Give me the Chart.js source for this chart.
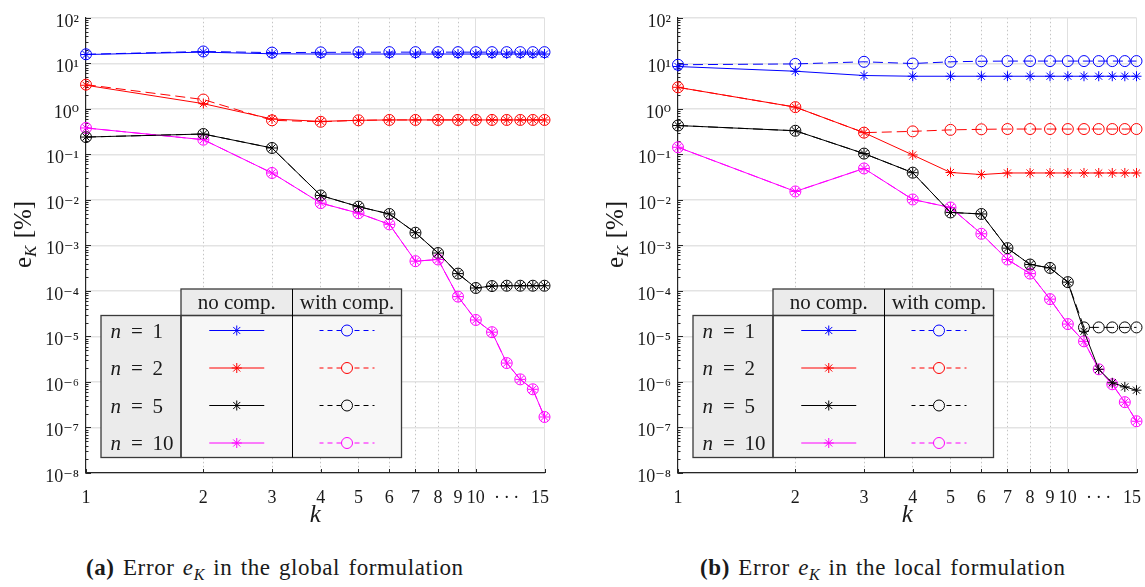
<!DOCTYPE html>
<html>
<head>
<meta charset="utf-8">
<script src="https://cdn.jsdelivr.net/npm/chart.js@4.4.0/dist/chart.umd.min.js"></script>
<style>
  body { margin: 0; background: #fff; width: 1145px; height: 587px; overflow: hidden; position: relative;
         font-family: "Liberation Serif", "DejaVu Serif", serif; color: #1a1a1a; }
  canvas { position: absolute; top: 0; }
  #chartA { left: 0; }
  #chartB { left: 592px; }
  .cap { position: absolute; top: 555px; font-size: 23px; line-height: 26px; white-space: nowrap;
         letter-spacing: 0.6px; word-spacing: 2px; }
  .cap sub { font-size: 16px; vertical-align: -5px; line-height: 0; }
</style>
</head>
<body>
<canvas id="chartA" width="572" height="530"></canvas>
<canvas id="chartB" width="572" height="530"></canvas>
<div class="cap" style="left:86px"><b>(a)</b>&nbsp;Error <i>e</i><sub><i>K</i></sub> in the global formulation</div>
<div class="cap" style="left:700px"><b>(b)</b>&nbsp;Error <i>e</i><sub><i>K</i></sub> in the local formulation</div>
<script>
const FAMILY = '"Liberation Serif", "DejaVu Serif", serif';

// number of modes k
const K = [1, 2, 3, 4, 5, 6, 7, 8, 9, 10, 11, 12, 13, 14, 15];
const X_TICKS = [1, 2, 3, 4, 5, 6, 7, 8, 9, 10, 12, 15];
const Y_TICKS = [1e-8, 1e-7, 1e-6, 1e-5, 1e-4, 1e-3, 1e-2, 1e-1, 1, 10, 100];

const N_VALUES = [1, 2, 5, 10];
const COLORS = ['#0000ff', '#ff0000', '#000000', '#ff00ff'];

// (a) global formulation, error e_K in %
const globalN1 = [15.6, 17.6, 16.2, 16.0, 16.0, 16.0, 16.0, 16.0, 16.0, 16.0, 16.0, 16.0, 16.0, 16.0, 16.0];
const globalN1Comp = [15.8, 18.2, 17.2, 17.4, 17.5, 17.6, 17.6, 17.6, 17.6, 17.6, 17.6, 17.6, 17.6, 17.6, 17.6];
const globalN2 = [3.3, 1.3, 0.60, 0.53, 0.56, 0.57, 0.57, 0.57, 0.57, 0.57, 0.57, 0.57, 0.57, 0.57, 0.57];
const globalN2Comp = [3.4, 1.6, 0.56, 0.52, 0.56, 0.57, 0.57, 0.57, 0.57, 0.57, 0.57, 0.57, 0.57, 0.57, 0.57];
const globalN5 = [0.24, 0.28, 0.138, 0.0125, 0.0071, 0.0049, 0.0019, 0.00068, 0.00024, 0.000116, 0.000128, 0.00013, 0.00013, 0.00013, 0.00013];
const globalN5Comp = [0.24, 0.28, 0.138, 0.0125, 0.0071, 0.0049, 0.0019, 0.00068, 0.00024, 0.000116, 0.000128, 0.00013, 0.00013, 0.00013, 0.00013];
const globalN10 = [0.38, 0.21, 0.039, 0.0085, 0.0051, 0.0029, 0.00045, 0.00049, 7.5e-5, 2.3e-5, 1.24e-5, 2.6e-6, 1.14e-6, 6.9e-7, 1.7e-7];
const globalN10Comp = [0.38, 0.21, 0.039, 0.0085, 0.0051, 0.0029, 0.00045, 0.00049, 7.5e-5, 2.3e-5, 1.24e-5, 2.6e-6, 1.14e-6, 6.9e-7, 1.7e-7];

// (b) local formulation
const localN1 = [8.5, 6.7, 5.4, 5.2, 5.2, 5.2, 5.2, 5.2, 5.2, 5.2, 5.2, 5.2, 5.2, 5.2, 5.2];
const localN1Comp = [9.3, 9.7, 10.8, 9.9, 10.8, 11.1, 11.2, 11.2, 11.2, 11.2, 11.2, 11.2, 11.2, 11.2, 11.2];
const localN2 = [2.97, 1.09, 0.30, 0.097, 0.040, 0.036, 0.039, 0.039, 0.039, 0.039, 0.039, 0.039, 0.039, 0.039, 0.039];
const localN2Comp = [2.97, 1.09, 0.30, 0.32, 0.345, 0.355, 0.36, 0.36, 0.36, 0.36, 0.36, 0.36, 0.36, 0.36, 0.36];
const localN5 = [0.43, 0.33, 0.104, 0.0396, 0.0053, 0.0049, 0.00087, 0.00038, 0.00032, 0.000156, 1.3e-5, 1.9e-6, 9.6e-7, 7.8e-7, 6.6e-7];
const localN5Comp = [0.43, 0.33, 0.104, 0.0396, 0.0053, 0.0049, 0.00087, 0.00038, 0.00032, 0.000156, 1.58e-5, 1.58e-5, 1.58e-5, 1.58e-5, 1.58e-5];
const localN10 = [0.143, 0.0153, 0.049, 0.0102, 0.0068, 0.0018, 0.00049, 0.00024, 6.6e-5, 1.87e-5, 7.8e-6, 1.9e-6, 8.9e-7, 3.6e-7, 1.37e-7];
const localN10Comp = [0.143, 0.0153, 0.049, 0.0102, 0.0068, 0.0018, 0.00049, 0.00024, 6.6e-5, 1.87e-5, 7.8e-6, 1.9e-6, 8.9e-7, 3.6e-7, 1.37e-7];

const SUP = {'-': '\u207b', '0': '\u2070', '1': '\u00b9', '2': '\u00b2', '3': '\u00b3', '4': '\u2074',
             '5': '\u2075', '6': '\u2076', '7': '\u2077', '8': '\u2078', '9': '\u2079'};

function series(values, color, comp) {
  return {
    data: values,
    borderColor: color,
    backgroundColor: 'transparent',
    borderWidth: 1,
    borderDash: comp ? [10, 5] : [],
    pointStyle: comp ? 'circle' : 'star',
    pointRadius: comp ? 5.5 : 5,
    pointBorderColor: color,
    pointBackgroundColor: 'transparent',
    pointBorderWidth: 1,
    tension: 0,
    fill: false,
    clip: false
  };
}

function line(ctx, x1, y1, x2, y2) {
  ctx.beginPath(); ctx.moveTo(x1, y1); ctx.lineTo(x2, y2); ctx.stroke();
}

// inward tick marks, like the original axes
function drawInwardTicks(chart) {
  const {ctx, chartArea: ca, scales} = chart;
  ctx.save();
  ctx.strokeStyle = '#262626';
  ctx.lineWidth = 1;
  for (let e = -8; e <= 2; e++) {
    const y = Math.round(scales.y.getPixelForValue(Math.pow(10, e))) + 0.5;
    line(ctx, ca.left, y, ca.left + 5, y);
    if (e === 2) break;
    for (let m = 2; m <= 9; m++) {
      const ym = Math.round(scales.y.getPixelForValue(m * Math.pow(10, e))) + 0.5;
      line(ctx, ca.left, ym, ca.left + 2.5, ym);
    }
  }
  X_TICKS.filter(v => v !== 12).forEach(v => {
    const x = Math.round(scales.x.getPixelForValue(v)) + 0.5;
    line(ctx, x, ca.bottom, x, ca.bottom - 4);
  });
  ctx.restore();
}

function drawYTitle(chart) {
  const {ctx, chartArea: ca} = chart;
  ctx.save();
  ctx.translate(ca.left - 55, ca.top + (ca.bottom - ca.top) / 2 - 11);
  ctx.rotate(-Math.PI / 2);
  ctx.fillStyle = '#1a1a1a';
  ctx.textBaseline = 'alphabetic';
  const big = '25px ' + FAMILY, sub = 'italic 17px ' + FAMILY;
  ctx.font = big; const we = ctx.measureText('e').width;
  ctx.font = sub; const wk = ctx.measureText('K').width;
  ctx.font = big; const wr = ctx.measureText(' [%]').width;
  let x = -(we + wk + 1 + wr) / 2;
  ctx.font = big; ctx.fillText('e', x, 0); x += we;
  ctx.font = sub; ctx.fillText('K', x, 5); x += wk + 1;
  ctx.font = big; ctx.fillText(' [%]', x, 0);
  ctx.restore();
}

// the legend table with "no comp." / "with comp." columns
function drawLegendTable(chart) {
  const {ctx, chartArea: ca} = chart;
  const x0 = ca.left + 15, x1 = ca.left + 95, x2 = ca.left + 206.5, x3 = ca.right - 143;
  const yH = ca.bottom - 184, y0 = ca.bottom - 157.5, y1 = ca.bottom - 15.5;
  ctx.save();
  ctx.fillStyle = '#ebebeb';
  ctx.fillRect(x1, yH, x3 - x1, y0 - yH);
  ctx.fillRect(x0, y0, x1 - x0, y1 - y0);
  ctx.fillStyle = '#f7f7f7';
  ctx.fillRect(x1, y0, x3 - x1, y1 - y0);
  ctx.strokeStyle = '#3a3a3a';
  ctx.lineWidth = 1.3;
  ctx.strokeRect(x1, yH, x3 - x1, y0 - yH);
  ctx.strokeRect(x0, y0, x1 - x0, y1 - y0);
  ctx.strokeRect(x1, y0, x3 - x1, y1 - y0);
  ctx.strokeStyle = '#000';
  ctx.lineWidth = 1;
  line(ctx, x2, yH, x2, y1);

  ctx.fillStyle = '#1a1a1a';
  ctx.textBaseline = 'alphabetic';
  ctx.textAlign = 'center';
  ctx.font = '21px ' + FAMILY;
  const c1 = (x1 + x2) / 2, c2 = (x2 + x3) / 2;
  ctx.fillText('no comp.', c1, yH + 20);
  ctx.fillText('with comp.', c2, yH + 20);

  N_VALUES.forEach((n, i) => {
    const yc = y0 + 15 + i * 37.5;
    ctx.fillStyle = '#1a1a1a';
    ctx.textAlign = 'left';
    ctx.font = 'italic 21px ' + FAMILY;
    ctx.fillText('n', x0 + 9.5, yc + 7);
    ctx.textAlign = 'center';
    ctx.font = '21px ' + FAMILY;
    ctx.fillText('=', x0 + 36, yc + 7);
    ctx.textAlign = 'left';
    ctx.fillText(String(n), x0 + 51.5, yc + 7);

    ctx.strokeStyle = COLORS[i];
    ctx.lineWidth = 1;
    ctx.setLineDash([]);
    line(ctx, c1 - 27.5, yc, c1 + 27.5, yc);
    ctx.setLineDash([5, 4]);
    ctx.lineDashOffset = 1;
    line(ctx, c2 - 27.5, yc, c2 + 27.5, yc);
    ctx.setLineDash([]);
    Chart.helpers.drawPoint(ctx, {pointStyle: 'star', radius: 5, rotation: 0, borderWidth: 1}, c1, yc);
    ctx.fillStyle = '#f7f7f7';
    ctx.beginPath(); ctx.arc(c2, yc, 5.5, 0, Math.PI * 2); ctx.fill(); ctx.stroke();
  });
  ctx.restore();
}

const decorations = {
  id: 'decorations',
  beforeDatasetsDraw(chart) {
    drawInwardTicks(chart);
    drawLegendTable(chart);
  },
  afterDraw(chart) {
    drawYTitle(chart);
  }
};

function xTickLabel(v) {
  if (v === 12) return '\u00b7\u2009\u00b7\u2009\u00b7';
  if (v === 15) return '15\u2002';
  return String(v);
}

function makeChart(id, sets) {
  const datasets = [];
  sets.forEach((s, i) => datasets.push(series(s[0], COLORS[i], false)));
  sets.forEach((s, i) => datasets.push(series(s[1], COLORS[i], true)));
  return new Chart(document.getElementById(id), {
    type: 'line',
    data: {labels: K, datasets: datasets},
    options: {
      responsive: false,
      animation: false,
      layout: {padding: {top: 13, right: 25, left: 0, bottom: 0}},
      plugins: {legend: {display: false}, tooltip: {enabled: false}},
      scales: {
        x: {
          type: 'logarithmic',
          min: 1,
          max: 15,
          afterBuildTicks: s => { s.ticks = X_TICKS.map(v => ({value: v})); },
          afterFit: s => { s.height = 57; },
          ticks: {
            autoSkip: false, maxRotation: 0, minRotation: 0, padding: 14,
            color: '#1a1a1a', font: {family: FAMILY, size: 18},
            callback: xTickLabel
          },
          grid: {
            drawTicks: false,
            lineWidth: 1,
            color: c => {
              const v = c.tick ? c.tick.value : 0;
              if (v >= 2 && v <= 9) return '#c4c4c4';
              if (v === 10 || v === 15) return '#e0e0e0';
              return 'rgba(0,0,0,0)';
            }
          },
          border: {
            color: '#262626', width: 1.2,
            dash: c => (c.tick && c.tick.value >= 2 && c.tick.value <= 9) ? [1.5, 2.5] : []
          },
          title: {display: true, text: 'k', color: '#1a1a1a', padding: 0,
                  font: {family: FAMILY, style: 'italic', size: 25}}
        },
        y: {
          type: 'logarithmic',
          min: 1e-8,
          max: 100,
          afterBuildTicks: s => { s.ticks = Y_TICKS.map(v => ({value: v})); },
          afterFit: s => { s.width = 86; },
          ticks: {
            autoSkip: false, padding: 7, labelOffset: 4,
            color: '#1a1a1a', font: {family: FAMILY, size: 18},
            callback: v => '10' + String(Math.round(Math.log10(v))).split('').map(ch => SUP[ch]).join('')
          },
          grid: {drawTicks: false, lineWidth: 1.5, color: '#e3e3e3'},
          border: {color: '#262626', width: 1.2}
        }
      }
    },
    plugins: [decorations]
  });
}

makeChart('chartA', [
  [globalN1, globalN1Comp],
  [globalN2, globalN2Comp],
  [globalN5, globalN5Comp],
  [globalN10, globalN10Comp]
]);

makeChart('chartB', [
  [localN1, localN1Comp],
  [localN2, localN2Comp],
  [localN5, localN5Comp],
  [localN10, localN10Comp]
]);
</script>
</body>
</html>
